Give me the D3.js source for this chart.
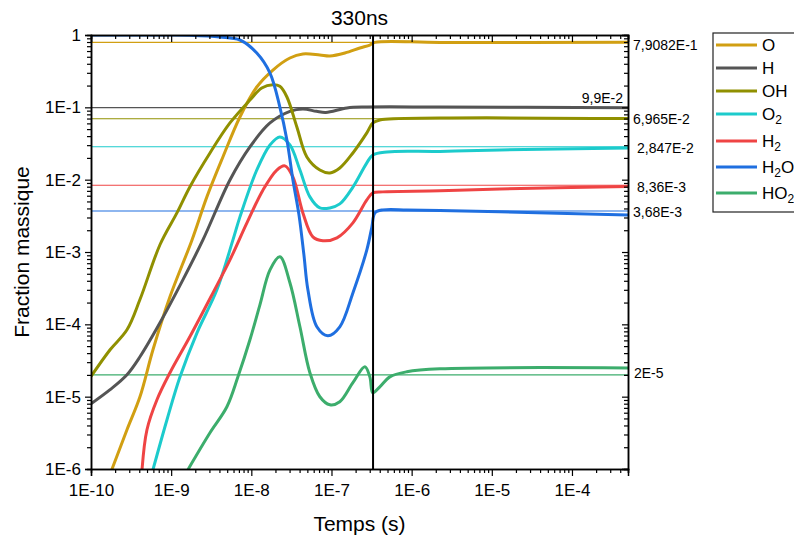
<!DOCTYPE html>
<html>
<head>
<meta charset="utf-8">
<script src="https://d3js.org/d3.v7.min.js"></script>
<style>
  body { margin: 0; background: #fff; }
  svg { font-family: Arial, "Liberation Sans", sans-serif; }
  .frame path.domain { stroke: #000; stroke-width: 1.5px; }
  .frame line { stroke: #000; stroke-width: 1.2px; }
  .tick text { font-size: 17px; fill: #000; }
</style>
</head>
<body>
<div id="chart"></div>
<script>
// ---- data ----
var species = ["O", "H", "OH", "O2", "H2", "H2O", "HO2"];
var colors = ["#d19f12", "#555555", "#909000", "#1ccbcc", "#ef4444", "#1f6fe0", "#3cad6c"];

var dataO = [[1.73e-10, 8.6e-7], [1.83e-10, 1.0e-6], [2.81e-10, 3.49e-6], [4.08e-10, 9.97e-6],
  [5.93e-10, 4.45e-5], [9.66e-10, 2.4e-4], [1.82e-9, 1.47e-3], [2.79e-9, 5.78e-3], [4.42e-9, 2.06e-2],
  [7.21e-9, 7.36e-2], [1.17e-8, 0.191], [1.86e-8, 0.328], [3.03e-8, 0.481], [4.4e-8, 0.546],
  [7.16e-8, 0.529], [9.55e-8, 0.513], [1.47e-7, 0.564], [2.26e-7, 0.661], [3.01e-7, 0.727],
  [3.48e-7, 0.79], [2.25e-6, 0.79], [5.0e-4, 0.791]];
var dataH = [[1e-10, 7.98e-6], [1.73e-10, 1.25e-5], [2.81e-10, 2.01e-5], [4.08e-10, 3.56e-5],
  [7.25e-10, 1.05e-4], [1.4e-9, 4.12e-4], [2.49e-9, 1.47e-3], [5.41e-9, 9.9e-3], [9.61e-9, 2.84e-2],
  [1.71e-8, 6.08e-2], [3.03e-8, 8.8e-2], [4.4e-8, 9.5e-2], [6.5e-8, 8.8e-2], [8.5e-8, 8.5e-2],
  [1.56e-7, 9.8e-2], [2.76e-7, 0.101], [2.25e-6, 0.101], [5.0e-4, 9.9e-2]];
var dataOH = [[1e-10, 1.9e-5], [1.73e-10, 4.45e-5], [2.81e-10, 8.4e-5], [4.08e-10, 2.2e-4],
  [7.25e-10, 1.26e-3], [1.18e-9, 3.47e-3], [1.71e-9, 7.94e-3], [3.05e-9, 2.34e-2], [5.41e-9, 6.08e-2],
  [9.61e-9, 0.126], [1.35e-8, 0.185], [1.86e-8, 0.205], [2.27e-8, 0.195], [2.78e-8, 0.139],
  [3.7e-8, 5.36e-2], [4.93e-8, 2.06e-2], [7.16e-8, 1.36e-2], [9.55e-8, 1.24e-2], [1.27e-7, 1.45e-2],
  [1.85e-7, 2.34e-2], [2.76e-7, 4.43e-2], [3.28e-7, 6.08e-2], [4.01e-7, 6.7e-2], [2.25e-6, 7.1e-2],
  [5.0e-4, 7.0e-2]];
var dataO2 = [[5.93e-10, 9.8e-7], [8.87e-10, 4.8e-6], [1.29e-9, 1.88e-5], [2.1e-9, 7.64e-5],
  [3.72e-9, 3.0e-4], [5.9e-9, 1.47e-3], [7.21e-9, 3.06e-3], [1.17e-8, 1.36e-2], [1.71e-8, 3.02e-2],
  [2.27e-8, 3.9e-2], [3.03e-8, 3.02e-2], [4.04e-8, 1.36e-2], [5.38e-8, 5.78e-3], [7.16e-8, 4.07e-3],
  [9.55e-8, 4.07e-3], [1.27e-7, 4.62e-3], [1.85e-7, 7.9e-3], [2.76e-7, 1.71e-2], [3.28e-7, 2.2e-2],
  [4.91e-7, 2.42e-2], [2.25e-6, 2.46e-2], [1.26e-5, 2.58e-2], [5.0e-4, 2.75e-2]];
var dataH2 = [[4.33e-10, 9.8e-7], [4.99e-10, 3.49e-6], [6.65e-10, 9.06e-6], [9.66e-10, 2.14e-5],
  [1.71e-9, 6.72e-5], [3.32e-9, 2.72e-4], [5.41e-9, 7.78e-4], [8.81e-9, 2.53e-3], [1.4e-8, 7.22e-3],
  [2.08e-8, 1.36e-2], [2.62e-8, 1.55e-2], [3.3e-8, 1.09e-2], [4.4e-8, 3.47e-3], [5.86e-8, 1.62e-3],
  [7.81e-8, 1.43e-3], [1.17e-7, 1.57e-3], [1.85e-7, 2.53e-3], [2.76e-7, 5.25e-3], [3.28e-7, 6.56e-3],
  [4.37e-7, 6.78e-3], [2.25e-6, 7.0e-3], [1.26e-5, 7.45e-3], [5.0e-4, 8.07e-3]];
var dataH2O = [[1e-10, 1.0], [1e-9, 1.0], [1.71e-9, 0.99], [4.06e-9, 0.938], [7.21e-9, 0.853],
  [1.17e-8, 0.564], [1.71e-8, 0.298], [2.27e-8, 0.101], [2.78e-8, 3.54e-2], [3.3e-8, 1.0e-2],
  [3.93e-8, 3.26e-3], [4.53e-8, 9.12e-4], [5.08e-8, 3.0e-4], [6.57e-8, 9.25e-5], [9.02e-8, 6.95e-5],
  [1.27e-7, 9.25e-5], [1.85e-7, 2.72e-4], [2.76e-7, 1.07e-3], [3.19e-7, 2.22e-3], [3.48e-7, 3.47e-3],
  [4.37e-7, 3.82e-3], [8.71e-7, 3.82e-3], [2.25e-6, 3.74e-3], [1.26e-5, 3.6e-3], [5.0e-4, 3.26e-3]];
var dataHO2 = [[1.62e-9, 9.8e-7], [3.05e-9, 3.17e-6], [4.96e-9, 7.25e-6], [6.81e-9, 1.88e-5],
  [9.61e-9, 6.11e-5], [1.28e-8, 1.86e-4], [1.71e-8, 5.66e-4], [2.27e-8, 8.57e-4], [3.03e-8, 3.75e-4],
  [4.04e-8, 9.25e-5], [5.38e-8, 2.14e-5], [7.16e-8, 9.97e-6], [9.55e-8, 7.73e-6], [1.27e-7, 8.5e-6],
  [1.85e-7, 1.56e-5], [2.61e-7, 2.59e-5], [3.01e-7, 1.88e-5], [3.28e-7, 1.13e-5], [4.01e-7, 1.37e-5],
  [5.35e-7, 1.88e-5], [8.71e-7, 2.21e-5], [2.25e-6, 2.43e-5], [5.0e-4, 2.5e-5]];

var refValues = [7.9082e-1, 9.9e-2, 6.965e-2, 2.847e-2, 8.36e-3, 3.68e-3, 2e-5];
var refLabels = ["7,9082E-1", "9,9E-2", "6,965E-2", "2,847E-2", "8,36E-3", "3,68E-3", "2E-5"];

var xTicks = [1e-10, 1e-9, 1e-8, 1e-7, 1e-6, 1e-5, 1e-4];
var xTickLabels = ["1E-10", "1E-9", "1E-8", "1E-7", "1E-6", "1E-5", "1E-4"];
var yTicks = [1, 1e-1, 1e-2, 1e-3, 1e-4, 1e-5, 1e-6];
var yTickLabels = ["1", "1E-1", "1E-2", "1E-3", "1E-4", "1E-5", "1E-6"];
var cutTime = 3.3e-7;
var title = "330ns";

var allSeries = [dataO, dataH, dataOH, dataO2, dataH2, dataH2O, dataHO2];

// ---- layout ----
var W = 794, H = 540;
var margin = { top: 35, left: 91 };
var width = 537, height = 434;

var svg = d3.select("#chart").append("svg")
    .attr("width", W)
    .attr("height", H);

var g = svg.append("g")
    .attr("transform", "translate(" + margin.left + "," + margin.top + ")");

var x = d3.scaleLog().domain([1e-10, 5e-4]).range([0, width]);
var y = d3.scaleLog().domain([1e-6, 1]).range([height, 0]);

// minor ticks 2..9 per decade
function minorTicks(domain) {
    var out = [];
    var lo = Math.floor(Math.log10(domain[0])), hi = Math.ceil(Math.log10(domain[1]));
    for (var e = lo; e <= hi; e++) {
        for (var k = 2; k <= 9; k++) {
            var v = k * Math.pow(10, e);
            if (v >= domain[0] && v <= domain[1]) out.push(v);
        }
    }
    return out;
}

g.append("defs").append("clipPath").attr("id", "clip")
  .append("rect").attr("width", width).attr("height", height);

// reference lines
g.append("g").attr("clip-path", "url(#clip)")
  .selectAll("line").data(refValues).enter().append("line")
    .attr("x1", 0).attr("x2", width)
    .attr("y1", function(d) { return y(d); })
    .attr("y2", function(d) { return y(d); })
    .attr("stroke", function(d, i) { return colors[i]; })
    .attr("stroke-width", 1.1);

// curves
var line = d3.line()
    .x(function(d) { return x(d[0]); })
    .y(function(d) { return y(d[1]); })
    .curve(d3.curveCatmullRom.alpha(0.5));

g.append("g").attr("clip-path", "url(#clip)")
  .selectAll("path").data(allSeries).enter().append("path")
    .attr("d", line)
    .attr("fill", "none")
    .attr("stroke", function(d, i) { return colors[i]; })
    .attr("stroke-width", 3)
    .attr("stroke-linejoin", "round");

// 330 ns marker
g.append("line")
    .attr("x1", x(cutTime)).attr("x2", x(cutTime))
    .attr("y1", 0).attr("y2", height)
    .attr("stroke", "#000").attr("stroke-width", 2);

// axes
var fmtX = function(d) { return xTickLabels[xTicks.indexOf(d)]; };
var fmtY = function(d) { return yTickLabels[yTicks.indexOf(d)]; };

g.append("g").attr("class", "frame")
    .attr("transform", "translate(0," + height + ")")
    .call(d3.axisBottom(x).tickValues(xTicks).tickFormat(fmtX).tickSize(7).tickPadding(8));
g.append("g").attr("class", "frame")
    .attr("transform", "translate(0," + height + ")")
    .call(d3.axisBottom(x).tickValues(minorTicks(x.domain())).tickFormat("").tickSize(4));
g.append("g").attr("class", "frame")
    .call(d3.axisBottom(x).tickValues(xTicks).tickFormat("").tickSize(7));
g.append("g").attr("class", "frame")
    .call(d3.axisBottom(x).tickValues(minorTicks(x.domain())).tickFormat("").tickSize(4));

g.append("g").attr("class", "frame")
    .call(d3.axisLeft(y).tickValues(yTicks).tickFormat(fmtY).tickSize(6).tickPadding(4));
g.append("g").attr("class", "frame")
    .call(d3.axisLeft(y).tickValues(minorTicks(y.domain())).tickFormat("").tickSize(4));
g.append("g").attr("class", "frame")
    .attr("transform", "translate(" + width + ",0)")
    .call(d3.axisLeft(y).tickValues(yTicks).tickFormat("").tickSize(6));
g.append("g").attr("class", "frame")
    .attr("transform", "translate(" + width + ",0)")
    .call(d3.axisLeft(y).tickValues(minorTicks(y.domain())).tickFormat("").tickSize(4));

// value labels next to reference lines
var labelPos = [[542, 3], [532, -10], [542, 0], [546, 1], [546, 2], [542, 1], [543, -1.5]];
g.append("g").selectAll("text").data(refValues).enter().append("text")
    .attr("x", function(d, i) { return labelPos[i][0]; })
    .attr("y", function(d, i) { return y(d) + labelPos[i][1]; })
    .attr("dy", "0.35em")
    .attr("text-anchor", function(d, i) { return i === 1 ? "end" : "start"; })
    .style("font-size", "14px")
    .text(function(d, i) { return refLabels[i]; });

// titles
svg.append("text")
    .attr("x", margin.left + width / 2)
    .attr("y", 25)
    .attr("text-anchor", "middle")
    .style("font-size", "21px")
    .text(title);

svg.append("text")
    .attr("x", margin.left + width / 2)
    .attr("y", 531)
    .attr("text-anchor", "middle")
    .style("font-size", "21px")
    .text("Temps (s)");

svg.append("text")
    .attr("transform", "translate(29," + (margin.top + height / 2) + ") rotate(-90)")
    .attr("text-anchor", "middle")
    .style("font-size", "21px")
    .text("Fraction massique");

// legend
var legend = svg.append("g").attr("transform", "translate(713,33)");
legend.append("rect")
    .attr("width", 100).attr("height", 179)
    .attr("fill", "#fff").attr("stroke", "#222").attr("stroke-width", 1.2);

var rowY = [12, 35, 58, 81, 108, 134, 160];
var item = legend.selectAll("g.item").data(species).enter().append("g")
    .attr("class", "item")
    .attr("transform", function(d, i) { return "translate(0," + rowY[i] + ")"; });

item.append("line")
    .attr("x1", 3).attr("x2", 44)
    .attr("stroke", function(d, i) { return colors[i]; })
    .attr("stroke-width", 3);

item.append("text")
    .attr("x", 49)
    .attr("dy", "0.36em")
    .style("font-size", "17px")
    .each(function(d) {
        var t = d3.select(this);
        var parts = d.match(/[A-Z]+|\d+/g);
        parts.forEach(function(p) {
            if (/\d/.test(p)) {
                t.append("tspan").attr("baseline-shift", "-30%").style("font-size", "12px").text(p);
            } else {
                t.append("tspan").text(p);
            }
        });
    });
</script>
</body>
</html>
